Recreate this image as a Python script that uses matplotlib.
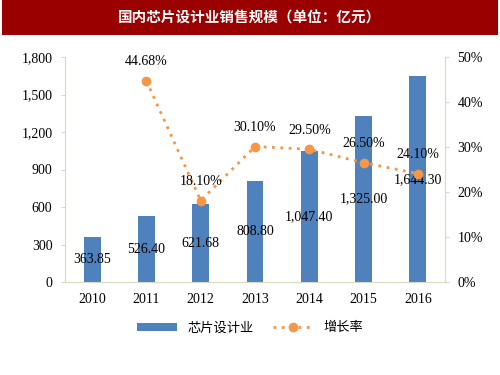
import matplotlib
matplotlib.use("Agg")
import matplotlib.pyplot as plt
import numpy as np
from matplotlib.patches import Rectangle

years = ["2010", "2011", "2012", "2013", "2014", "2015", "2016"]
sales = [363.85, 526.40, 621.68, 808.80, 1047.40, 1325.00, 1644.30]
growth = [np.nan, 44.68, 18.10, 30.10, 29.50, 26.50, 24.10]
sales_labels = ["363.85", "526.40", "621.68", "808.80", "1,047.40", "1,325.00", "1,644.30"]
left_ticks = [0, 300, 600, 900, 1200, 1500, 1800]
right_ticks = [0, 10, 20, 30, 40, 50]

serif = ["Liberation Serif", "Noto Sans CJK SC"]
cjk = ["Noto Sans CJK SC", "DejaVu Sans"]
bar_color = "#4F81BD"
line_color = "#F79646"
axis_color = "#D9D9C3"

fig = plt.figure(figsize=(5, 3.75), dpi=100)
# title banner
fig.patches.append(Rectangle((0.004, 1 - 35/375), 0.992, 35/375, transform=fig.transFigure,
                             facecolor="#9B0000", edgecolor="none", zorder=0))
fig.text(0.5, 1 - 17.5/375, "国内芯片设计业销售规模（单位：亿元）", color="white",
         ha="center", va="center", fontsize=10.5, fontweight="bold", family=cjk)

ax = fig.add_axes([65/500, 1 - 282/375, 380/500, 225/375])
x = np.arange(len(years))
bars = ax.bar(x, sales, width=0.31, color=bar_color, zorder=2, label="芯片设计业")
ax.set_xlim(-0.5, len(years) - 0.5)
ax.set_ylim(0, 1800)
ax.set_yticks(left_ticks)
ax.set_yticklabels([f"{v:,}" for v in left_ticks], family=serif, fontsize=10)
ax.set_xticks(x)
ax.set_xticklabels(years, family=serif, fontsize=10)
ax.tick_params(axis="x", length=0, pad=8)
ax.tick_params(axis="y", length=3, color=axis_color, pad=6)
for s in ["top", "right"]:
    ax.spines[s].set_visible(False)
for s in ["left", "bottom"]:
    ax.spines[s].set_color(axis_color)
for xi, v, lab in zip(x, sales, sales_labels):
    ax.text(xi, v / 2, lab, ha="center", va="center", family=serif, fontsize=10, zorder=5)

ax2 = ax.twinx()
ax2.set_ylim(0, 50)
ax2.set_yticks(right_ticks)
ax2.set_yticklabels([f"{v}%" for v in right_ticks], family=serif, fontsize=10)
ax2.tick_params(axis="y", length=3, color=axis_color, pad=6)
for s in ["top", "left", "bottom"]:
    ax2.spines[s].set_visible(False)
ax2.spines["right"].set_color(axis_color)
ax2.plot(x, growth, linestyle=(0, (1, 2)), linewidth=2, color=line_color,
         marker="o", markersize=6, zorder=3, label="增长率")
for xi, g in zip(x, growth):
    if not np.isnan(g):
        ax2.annotate(f"{g:.2f}%", (xi, g), xytext=(0, 9), textcoords="offset points",
                     ha="center", va="bottom", family=serif, fontsize=10)

h1, l1 = ax.get_legend_handles_labels()
h2, l2 = ax2.get_legend_handles_labels()
leg = fig.legend(h1 + h2, l1 + l2, loc="center", bbox_to_anchor=(0.5, 1 - 328/375),
                 ncol=2, frameon=False, prop={"family": cjk, "size": 9.5},
                 handlelength=3, columnspacing=1.5, handleheight=0.5)

fig.savefig("out.png", dpi=100)
